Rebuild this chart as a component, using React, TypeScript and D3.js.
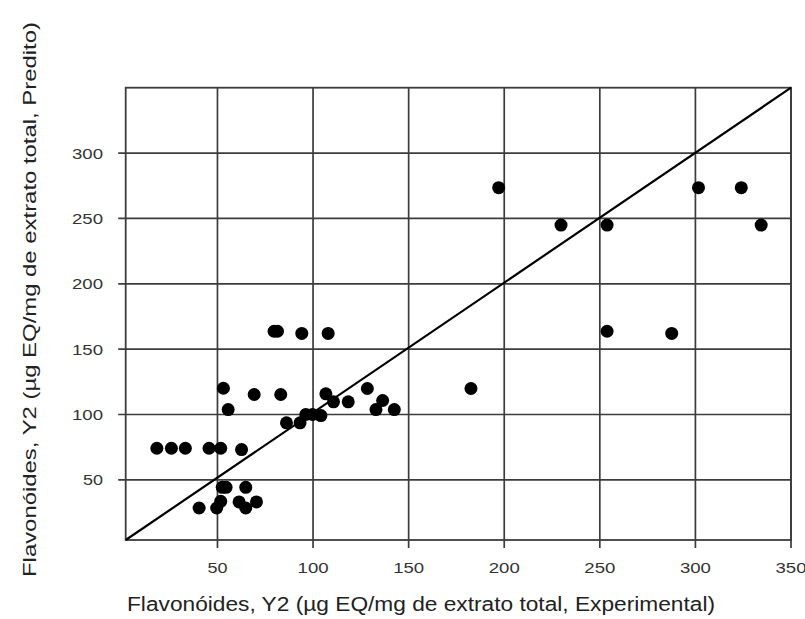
import React from "react";
import * as d3 from "d3";

const experimental: number[] = [
  79.6, 81.4, 94.1, 107.9, 53.1, 69.2, 83.1, 55.6, 106.7, 110.7, 118.4, 128.4,
  86.1, 93.2, 96.2, 99.7, 104.1,
  18.3, 25.9, 33.2, 45.6, 51.7, 62.6,
  52.5, 54.5, 64.8, 40.4, 49.6, 51.7, 61.3, 64.8, 70.4,
  136.4, 132.9, 142.5, 182.6, 253.8, 287.6,
  197.1, 229.7, 253.8, 301.6, 324.0, 334.4,
];
const predicted: number[] = [
  163.7, 163.7, 162.0, 162.0, 120.1, 115.3, 115.3, 103.8, 115.8, 109.7, 109.7, 119.9,
  93.6, 93.6, 100.0, 100.0, 99.2,
  74.2, 74.2, 74.2, 74.2, 74.2, 73.2,
  44.3, 44.3, 44.3, 28.5, 28.5, 33.6, 33.1, 28.5, 33.1,
  110.7, 103.8, 103.8, 119.9, 163.7, 162.0,
  273.5, 244.9, 244.9, 273.5, 273.5, 244.9,
];
const xTicks: number[] = [50, 100, 150, 200, 250, 300, 350];
const yTicks: number[] = [50, 100, 150, 200, 250, 300];
const xDomain: [number, number] = [2, 350];
const yDomain: [number, number] = [4, 350];
const xTitle = "Flavonóides, Y2 (µg EQ/mg de extrato total, Experimental)";
const yTitle = "Flavonóides, Y2 (µg EQ/mg de extrato total, Predito)";

export default function App() {
  const W = 805, H = 619;
  const L = 125.7, R = 791, T = 87.7, B = 540;
  const x = d3.scaleLinear().domain(xDomain).range([L, R]);
  const y = d3.scaleLinear().domain(yDomain).range([B, T]);
  const font = "'Liberation Sans', Arial, sans-serif";
  const grid = "#3c3c3c";
  const line = d3.line<[number, number]>().x(d => x(d[0])).y(d => y(d[1]));
  const diag: [number, number][] = [[xDomain[0], yDomain[0]], [xDomain[1], yDomain[1]]];
  return (
    <svg width={W} height={H} style={{ position: "absolute", left: 0, top: 0, background: "#fff" }}>
      <rect x={0} y={0} width={W} height={H} fill="#fff" />
      {xTicks.map(t => (
        <line key={"gx" + t} x1={x(t)} x2={x(t)} y1={T} y2={B + 8} stroke={grid} strokeWidth={1.7} />
      ))}
      {yTicks.map(t => (
        <line key={"gy" + t} x1={L - 7.5} x2={R} y1={y(t)} y2={y(t)} stroke={grid} strokeWidth={1.7} />
      ))}
      <rect x={L} y={T} width={R - L} height={B - T} fill="none" stroke={grid} strokeWidth={1.8} />
      <path d={line(diag) || ""} stroke="#000" strokeWidth={2.2} fill="none" />
      {experimental.map((v, i) => (
        <circle key={"p" + i} cx={x(v)} cy={y(predicted[i])} r={6.5} fill="#000" />
      ))}
      {xTicks.map(t => (
        <text key={"tx" + t} x={x(t)} y={573} textAnchor="middle" fontFamily={font} fontSize={15}
          fill="#333" textLength={t >= 100 ? 31 : 20} lengthAdjust="spacingAndGlyphs">{t}</text>
      ))}
      {yTicks.map(t => (
        <text key={"ty" + t} x={103} y={y(t) + 5.5} textAnchor="end" fontFamily={font} fontSize={15}
          fill="#333" textLength={t >= 100 ? 31 : 20} lengthAdjust="spacingAndGlyphs">{t}</text>
      ))}
      <text x={127} y={611} fontFamily={font} fontSize={20} fill="#222" textLength={588}
        lengthAdjust="spacingAndGlyphs">{xTitle}</text>
      <text transform="translate(36,577) rotate(-90)" fontFamily={font} fontSize={19} fill="#222"
        textLength={555} lengthAdjust="spacingAndGlyphs">{yTitle}</text>
    </svg>
  );
}
